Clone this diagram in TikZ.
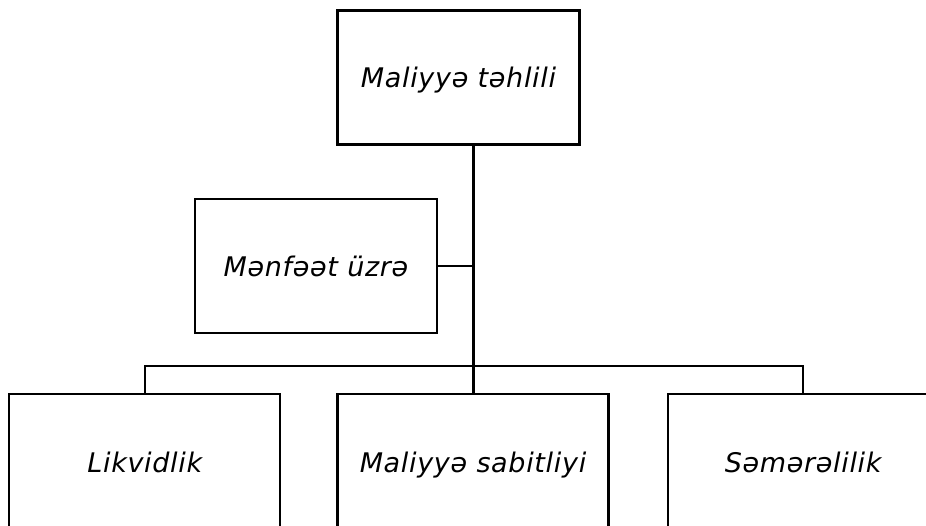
\documentclass[tikz,border=0pt]{standalone}
\usepackage{fontspec}
\setmainfont{DejaVu Sans}
\newfontfamily\boxfont[LetterSpace=2.5]{DejaVu Sans}
\usetikzlibrary{positioning}

\begin{document}
\begin{tikzpicture}[x=1pt, y=1pt,
    orgbox/.style={draw=black, line width=2.2pt, fill=white,
                   minimum width=242pt, minimum height=134pt,
                   text height=24pt, text depth=3pt,
                   font=\boxfont\fontsize{27}{32}\selectfont\itshape, inner sep=0pt},
    lowbox/.style={orgbox, minimum width=271pt, minimum height=136pt},
    link/.style={draw=black, line width=2.2pt},
    trunk/.style={draw=black, line width=3pt}
  ]
  \clip (0,0) rectangle (926,525);
  \fill[white] (0,0) rectangle (926,525);

  % yuxari
  \node[orgbox] (fin) at (458.5,447.5) {Maliyyə təhlili};
  \node[orgbox] (menf) at (316,259) {Mənfəət üzrə};

  % asagi sira
  \node[lowbox] (sab) at (473,63) {Maliyyə sabitliyi};
  \node[lowbox, left=55pt of sab] (likv) {Likvidlik};
  \node[lowbox, right=57pt of sab] (sem) {Səmərəlilik};

  \coordinate (bus) at (473,159);
  \draw[trunk] (fin.south -| sab.north) -- (sab.north);
  \draw[link] (menf.east) -- (menf.east -| sab.north);
  \draw[link] (likv.north) |- (bus) -| (sem.north);
\end{tikzpicture}
\end{document}
